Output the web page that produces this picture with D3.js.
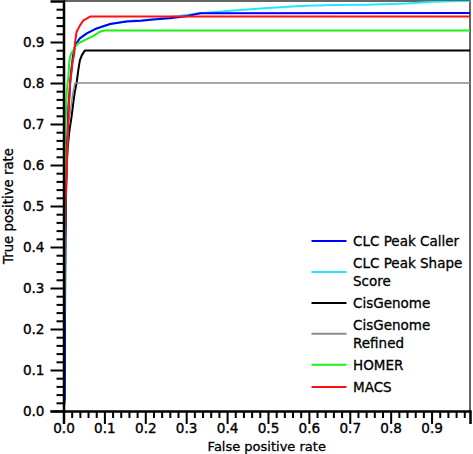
<!DOCTYPE html>
<html>
<head>
<meta charset="utf-8">
<script src="https://cdn.jsdelivr.net/npm/d3@7"></script>
<style>
    html, body { margin: 0; padding: 0; background: #fff; }
    svg text { font-family: "DejaVu Sans", sans-serif; fill: #000; }
</style>
</head>
<body>
<script>
(function () {
    "use strict";

    // series: [false positive rate, true positive rate]
    var clcPeakCaller = [[0, 0], [0.003, 0.03], [0.004, 0.3], [0.006, 0.55], [0.008, 0.65],
        [0.010, 0.68], [0.012, 0.74], [0.015, 0.78], [0.017, 0.81], [0.020, 0.84],
        [0.024, 0.87], [0.028, 0.889], [0.034, 0.90], [0.040, 0.909], [0.057, 0.921],
        [0.081, 0.933], [0.114, 0.944], [0.155, 0.950], [0.190, 0.952], [0.220, 0.955],
        [0.260, 0.958], [0.300, 0.963], [0.334, 0.970], [1.0, 0.971]];

    var clcShapeScore = [[0, 0], [0.003, 0.03], [0.004, 0.3], [0.006, 0.55], [0.008, 0.65],
        [0.010, 0.68], [0.012, 0.74], [0.015, 0.78], [0.017, 0.81], [0.020, 0.84],
        [0.024, 0.87], [0.028, 0.889], [0.034, 0.90], [0.040, 0.909], [0.057, 0.921],
        [0.081, 0.933], [0.114, 0.944], [0.155, 0.951], [0.190, 0.953], [0.230, 0.957],
        [0.270, 0.962], [0.300, 0.966], [0.334, 0.970], [0.380, 0.974], [0.415, 0.977],
        [0.500, 0.983], [0.578, 0.988], [0.660, 0.990], [0.741, 0.991], [0.839, 0.994],
        [0.904, 0.998], [0.970, 1.0], [1.0, 1.0]];

    var cisGenome = [[0, 0], [0.002, 0.35], [0.005, 0.48], [0.008, 0.60], [0.010, 0.64],
        [0.014, 0.68], [0.020, 0.72], [0.025, 0.76], [0.028, 0.78], [0.032, 0.80],
        [0.036, 0.83], [0.040, 0.855], [0.045, 0.868], [0.052, 0.879], [1.0, 0.879]];

    var cisGenomeRefined = [[0, 0], [0.003, 0.35], [0.006, 0.55], [0.010, 0.65],
        [0.012, 0.70], [0.018, 0.74], [0.022, 0.77], [0.028, 0.80], [1.0, 0.80]];

    var homer = [[0, 0], [0.003, 0.40], [0.004, 0.60], [0.005, 0.70], [0.006, 0.727],
        [0.008, 0.783], [0.012, 0.815], [0.014, 0.852], [0.018, 0.87], [0.024, 0.880],
        [0.030, 0.89], [0.036, 0.897], [0.053, 0.905], [0.073, 0.915], [0.089, 0.925],
        [0.100, 0.928], [1.0, 0.928]];

    var macs = [[0, 0], [0.003, 0.50], [0.006, 0.54], [0.008, 0.60], [0.010, 0.66],
        [0.013, 0.74], [0.016, 0.80], [0.020, 0.83], [0.022, 0.85], [0.026, 0.87],
        [0.028, 0.897], [0.032, 0.925], [0.040, 0.94], [0.048, 0.952], [0.065, 0.962],
        [1.0, 0.962]];

    var seriesNames = [["CLC Peak Caller"], ["CLC Peak Shape", "Score"], ["CisGenome"],
        ["CisGenome", "Refined"], ["HOMER"], ["MACS"]];
    var seriesData = [clcPeakCaller, clcShapeScore, cisGenome, cisGenomeRefined, homer, macs];
    var seriesColors = ["#0000ff", "#22e8ff", "#000000", "#8c8c8c", "#18f018", "#ff1010"];
    // cyan goes under blue, the rest in legend order
    var drawOrder = [1, 0, 2, 3, 4, 5];

    var majorTicks = [0, 0.1, 0.2, 0.3, 0.4, 0.5, 0.6, 0.7, 0.8, 0.9];
    var xTitle = "False positive rate";
    var yTitle = "True positive rate";

    /*
     * PLOT
     */
    var plot = {};
    plot.margin = {top: 1, right: 3, bottom: 43, left: 63.5};
    plot.outerWidth = 473;
    plot.outerHeight = 454;
    plot.width = plot.outerWidth - plot.margin.left - plot.margin.right;
    plot.height = plot.outerHeight - plot.margin.top - plot.margin.bottom;

    var x = d3.scaleLinear().domain([0, 0.994]).range([0, plot.width]);
    var y = d3.scaleLinear().domain([0, 1]).range([plot.height, 0]);

    var minorTicks = d3.range(0, 50).map(function (i) { return i * 0.02; })
            .filter(function (v) { return Math.round(v * 50) % 5 !== 0; });

    var svg = d3.select("body")
            .append("svg")
            .attr("width", plot.outerWidth)
            .attr("height", plot.outerHeight);

    plot.area = svg.append("g")
            .attr("transform", "translate(" + plot.margin.left + "," + plot.margin.top + ")");

    plot.area.append("defs")
            .append("clipPath")
            .attr("id", "clipBox")
            .append("rect")
            .attr("width", plot.width)
            .attr("height", plot.height);

    // thin frame on top and right
    plot.area.append("path")
            .attr("d", "M0,0H" + plot.width + "V" + plot.height)
            .attr("fill", "none")
            .attr("stroke", "#333")
            .attr("stroke-width", 1.5);

    // curves
    var line = d3.line()
            .x(function (d) { return x(d[0]); })
            .y(function (d) { return y(d[1]); });

    var curves = plot.area.append("g").attr("clip-path", "url(#clipBox)");
    drawOrder.forEach(function (i) {
        curves.append("path")
                .attr("d", line(seriesData[i]))
                .attr("fill", "none")
                .attr("stroke", seriesColors[i])
                .attr("stroke-width", i === 3 ? 1.5 : 2)
                .attr("stroke-linejoin", "round");
    });

    // axes: long major ticks with labels, short minor ticks
    var fmt = d3.format(".1f");

    var xAxis = plot.area.append("g")
            .attr("transform", "translate(0," + plot.height + ")");
    xAxis.append("g")
            .call(d3.axisBottom(x).tickValues(minorTicks).tickSize(7).tickFormat(""))
            .call(function (g) { g.select(".domain").remove(); });
    xAxis.append("g")
            .call(d3.axisBottom(x).tickValues(majorTicks).tickSize(13).tickPadding(-1).tickFormat(fmt));

    var yAxis = plot.area.append("g");
    yAxis.append("g")
            .call(d3.axisLeft(y).tickValues(minorTicks).tickSize(7).tickFormat(""))
            .call(function (g) { g.select(".domain").remove(); });
    yAxis.append("g")
            .call(d3.axisLeft(y).tickValues(majorTicks).tickSize(13).tickPadding(6).tickFormat(fmt));

    plot.area.selectAll(".tick line")
            .attr("stroke", "#000")
            .attr("stroke-width", 2);
    plot.area.selectAll(".domain")
            .attr("stroke", "#000")
            .attr("stroke-width", 2.5);
    plot.area.selectAll(".tick text")
            .style("font-size", "13.6px")
            .attr("stroke", "#000")
            .attr("stroke-width", 0.35);

    // axis titles
    svg.append("text")
            .attr("x", plot.margin.left + plot.width / 2)
            .attr("y", 451)
            .attr("text-anchor", "middle")
            .attr("stroke", "#000")
            .attr("stroke-width", 0.3)
            .style("font-size", "13px")
            .text(xTitle);

    svg.append("text")
            .attr("transform", "translate(13," + (plot.margin.top + plot.height / 2) + ") rotate(-90)")
            .attr("text-anchor", "middle")
            .attr("stroke", "#000")
            .attr("stroke-width", 0.3)
            .style("font-size", "13.3px")
            .text(yTitle);

    // legend
    var legend = svg.append("g");
    var lineH = 17.3;
    var cursor = 234;
    seriesNames.forEach(function (lines, i) {
        var base = cursor + 12;
        legend.append("line")
                .attr("x1", 311.5)
                .attr("x2", 346.5)
                .attr("y1", base - 5 + (lines.length - 1) * lineH / 2)
                .attr("y2", base - 5 + (lines.length - 1) * lineH / 2)
                .attr("stroke", seriesColors[i])
                .attr("stroke-width", 2);
        lines.forEach(function (t, j) {
            legend.append("text")
                    .attr("x", 353)
                    .attr("y", base + j * lineH)
                    .attr("stroke", "#000")
                    .attr("stroke-width", 0.3)
                    .style("font-size", "13.5px")
                    .text(t);
        });
        cursor += lines.length * lineH + 5;
    });
})();
</script>
</body>
</html>
